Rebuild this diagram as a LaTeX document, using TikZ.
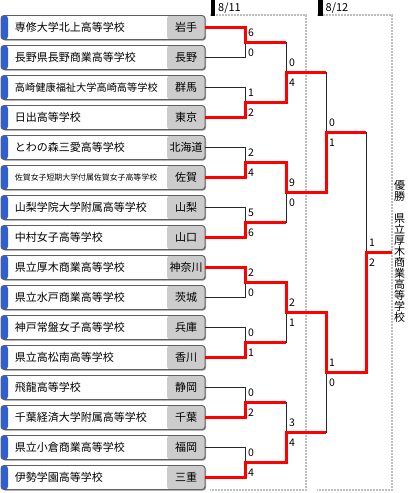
\documentclass[tikz,border=0pt]{standalone}
\usepackage{fontspec}
\setmainfont{Noto Sans CJK JP}
\usepackage{xcolor}
\definecolor{bkblue}{RGB}{48,96,208}
\definecolor{bkgray}{RGB}{204,204,204}
\definecolor{bkedge}{RGB}{96,96,96}
\definecolor{bkred}{RGB}{255,0,0}
\definecolor{bkline}{RGB}{40,40,40}
\definecolor{bkdots}{RGB}{190,190,190}
\usetikzlibrary{shadows}

\begin{document}
\begin{tikzpicture}[
  x=1pt, y=-1pt,
  teambox/.style={
    rectangle, rounded corners=3pt,
    minimum width=204pt, minimum height=24pt,
    text width=176pt, inner xsep=14pt, inner ysep=0pt,
    draw=bkedge, line width=0.9pt,
    fill=white,
    drop shadow={shadow xshift=1pt, shadow yshift=-1pt, fill=black, opacity=0.45},
    font=\fontsize{11}{13}\selectfont,
    align=left,
    path picture={
      \fill[bkblue] (path picture bounding box.north west) rectangle ([xshift=7pt]path picture bounding box.south west);
      \fill[bkgray] ([xshift=-38pt]path picture bounding box.north east) rectangle (path picture bounding box.south east);
    }
  },
  pref/.style={font=\fontsize{11}{13}\selectfont, inner sep=0pt},
  score/.style={font=\fontsize{10.5}{12}\selectfont, anchor=west, inner sep=0pt},
  day/.style={font=\fontsize{11}{13}\selectfont, anchor=west, inner sep=0pt},
  win/.style={draw=bkred, line width=3pt},
  lose/.style={draw=bkline, line width=1pt},
  frame/.style={draw=bkdots, line width=2pt, dash pattern=on 2pt off 1pt}
]
\useasboundingbox (0,0) rectangle (408,493);

\draw[frame] (210,15) -- (306,15) -- (306,490) -- (210,490);
\draw[frame] (317,15) -- (392,15) -- (392,490) -- (317,490);

\fill[black] (211,0) rectangle (215,16);
\node[day] (d1) at (218,8) {8/11};
\fill[black] (318,0) rectangle (322.5,16);
\node[day] (d2) at (325.5,8) {8/12};

\node[teambox] (t1)  at (103,27.5)  {専修大学北上高等学校};
\node[teambox] (t2)  at (103,57.5)  {長野県長野商業高等学校};
\node[teambox, font=\fontsize{10.2}{12}\selectfont] (t3) at (103,87.5) {高崎健康福祉大学高崎高等学校};
\node[teambox] (t4)  at (103,117.5) {日出高等学校};
\node[teambox] (t5)  at (103,147.5) {とわの森三愛高等学校};
\node[teambox, font=\fontsize{7.9}{10}\selectfont] (t6) at (103,177.5) {佐賀女子短期大学付属佐賀女子高等学校};
\node[teambox] (t7)  at (103,207.5) {山梨学院大学附属高等学校};
\node[teambox] (t8)  at (103,237.5) {中村女子高等学校};
\node[teambox] (t9)  at (103,267.5) {県立厚木商業高等学校};
\node[teambox] (t10) at (103,297.5) {県立水戸商業高等学校};
\node[teambox] (t11) at (103,327.5) {神戸常盤女子高等学校};
\node[teambox] (t12) at (103,357.5) {県立高松南高等学校};
\node[teambox] (t13) at (103,387.5) {飛龍高等学校};
\node[teambox] (t14) at (103,417.5) {千葉経済大学附属高等学校};
\node[teambox] (t15) at (103,447.5) {県立小倉商業高等学校};
\node[teambox] (t16) at (103,477.5) {伊勢学園高等学校};

\node[pref] (p1)  at (186,27.5)  {岩手};
\node[pref] (p2)  at (186,57.5)  {長野};
\node[pref] (p3)  at (186,87.5)  {群馬};
\node[pref] (p4)  at (186,117.5) {東京};
\node[pref] (p5)  at (186,147.5) {北海道};
\node[pref] (p6)  at (186,177.5) {佐賀};
\node[pref] (p7)  at (186,207.5) {山梨};
\node[pref] (p8)  at (186,237.5) {山口};
\node[pref] (p9)  at (186,267.5) {神奈川};
\node[pref] (p10) at (186,297.5) {茨城};
\node[pref] (p11) at (186,327.5) {兵庫};
\node[pref] (p12) at (186,357.5) {香川};
\node[pref] (p13) at (186,387.5) {静岡};
\node[pref] (p14) at (186,417.5) {千葉};
\node[pref] (p15) at (186,447.5) {福岡};
\node[pref] (p16) at (186,477.5) {三重};

\coordinate (a1) at (245,42.5);
\coordinate (a2) at (245,102.5);
\coordinate (a3) at (245,162.5);
\coordinate (a4) at (245,222.5);
\coordinate (a5) at (245,282.5);
\coordinate (a6) at (245,342.5);
\coordinate (a7) at (245,402.5);
\coordinate (a8) at (245,462.5);
\coordinate (b1) at (286,72.5);
\coordinate (b2) at (286,192.5);
\coordinate (b3) at (286,312.5);
\coordinate (b4) at (286,432.5);
\coordinate (c1) at (326,132.5);
\coordinate (c2) at (326,372.5);
\coordinate (f)  at (366,252.5);
\coordinate (w)  at (392,252.5);

\draw[lose] (t2.east) -| (a1);
\draw[lose] (t3.east) -| (a2);
\draw[lose] (t5.east) -| (a3);
\draw[lose] (t7.east) -| (a4);
\draw[lose] (t10.east) -| (a5);
\draw[lose] (t11.east) -| (a6);
\draw[lose] (t13.east) -| (a7);
\draw[lose] (t15.east) -| (a8);
\draw[lose] (a1) -| (b1);
\draw[lose] (a4) -| (b2);
\draw[lose] (a6) -| (b3);
\draw[lose] (a7) -| (b4);
\draw[lose] (b1) -| (c1);
\draw[lose] (b4) -| (c2);
\draw[lose] (c1) -| (f);

\draw[win] (t1.east) -| (a1) -- (a1 -| b1);
\draw[win] (t4.east) -| (a2) -| (b1) -- (b1 -| c1);
\draw[win] (t6.east) -| (a3) -| (b2) -| (c1) -- (c1 -| f);
\draw[win] (t8.east) -| (a4) -- (a4 -| b2);
\draw[win] (t9.east) -| (a5) -| (b3) -| (c2) -| (f) -- (w);
\draw[win] (t12.east) -| (a6) -- (a6 -| b3);
\draw[win] (t14.east) -| (a7) -- (a7 -| b4);
\draw[win] (t16.east) -| (a8) -| (b4) -- (b4 -| c2);

\node[score] (s1t) at (248,33)  {6};
\node[score] (s1b) at (248,53)  {0};
\node[score] (s2t) at (248,93)  {1};
\node[score] (s2b) at (248,113) {2};
\node[score] (s3t) at (248,153) {2};
\node[score] (s3b) at (248,173) {4};
\node[score] (s4t) at (248,213) {5};
\node[score] (s4b) at (248,233) {6};
\node[score] (s5t) at (248,273) {2};
\node[score] (s5b) at (248,293) {0};
\node[score] (s6t) at (248,333) {0};
\node[score] (s6b) at (248,353) {1};
\node[score] (s7t) at (248,393) {0};
\node[score] (s7b) at (248,413) {2};
\node[score] (s8t) at (248,453) {0};
\node[score] (s8b) at (248,473) {4};

\node[score] (s9t)  at (289,63)  {0};
\node[score] (s9b)  at (289,83)  {4};
\node[score] (s10t) at (289,183) {9};
\node[score] (s10b) at (289,203) {0};
\node[score] (s11t) at (289,303) {2};
\node[score] (s11b) at (289,323) {1};
\node[score] (s12t) at (289,423) {3};
\node[score] (s12b) at (289,443) {4};

\node[score] (s13t) at (329,123) {0};
\node[score] (s13b) at (329,143) {1};
\node[score] (s14t) at (329,363) {1};
\node[score] (s14b) at (329,383) {0};

\node[score] (s15t) at (369,243) {1};
\node[score] (s15b) at (369,263) {2};

\node[font=\fontsize{11}{11}\selectfont, align=center, inner sep=0pt] (champ) at (399.5,251)
  {優\\勝\\[11pt]県\\立\\厚\\木\\商\\業\\高\\等\\学\\校};
\end{tikzpicture}
\end{document}
